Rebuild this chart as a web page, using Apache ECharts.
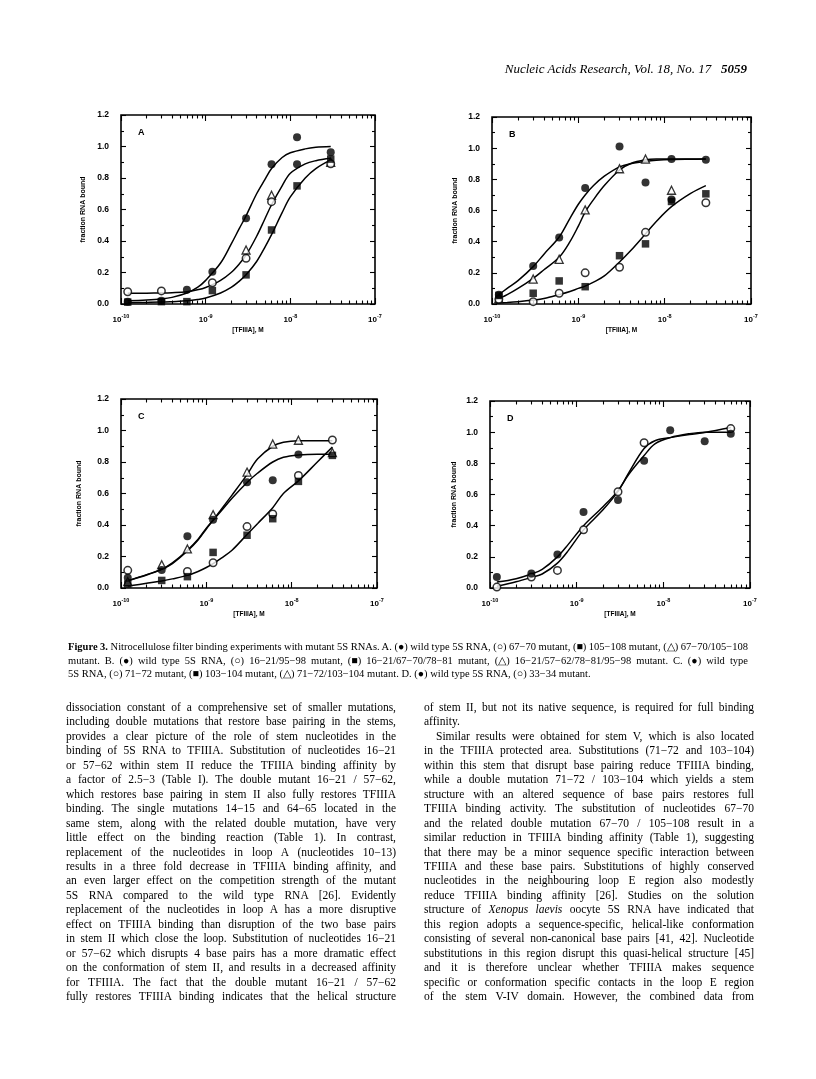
<!DOCTYPE html>
<html>
<head>
    <meta charset="utf-8" />
    <title>Figure 3 - TFIIIA binding curves</title>
    <script src="https://cdn.jsdelivr.net/npm/echarts@6/dist/echarts.min.js"></script>
    <style>
        html, body { margin: 0; padding: 0; background: #fff; }
        #page { position: relative; width: 816px; height: 1079px; overflow: hidden; background: #fff; }
        #chart { position: absolute; left: 0; top: 0; width: 816px; height: 1079px; }
        .txt { position: absolute; font-family: "Liberation Serif", "Times New Roman", serif; color: #000; }
        .ln { white-space: nowrap; }
        .header { right: 69px; top: 60px; font-size: 13px; line-height: 18px; font-style: italic; }
        .caption { font-size: 10.5px; line-height: 13.5px; }
        .body { font-size: 11.5px; line-height: 14.45px; }
    </style>
</head>
<body>
<div id="page">
    <div id="chart"></div>

    <div class="txt header">Nucleic Acids Research, Vol. 18, No. 17&nbsp;&nbsp;&nbsp;<b>5059</b></div>

    <div class="txt just caption" style="left:68px; top:640px; width:680px;">
        <div class="ln"><span><b>Figure 3.</b> Nitrocellulose filter binding experiments with mutant 5S RNAs. A. (●) wild type 5S RNA, (○) 67−70 mutant, (■) 105−108 mutant, (△) 67−70/105−108</span></div>
        <div class="ln"><span>mutant. B. (●) wild type 5S RNA, (○) 16−21/95−98 mutant, (■) 16−21/67−70/78−81 mutant, (△) 16−21/57−62/78−81/95−98 mutant. C. (●) wild type</span></div>
        <div class="ln last"><span>5S RNA, (○) 71−72 mutant, (■) 103−104 mutant, (△) 71−72/103−104 mutant. D. (●) wild type 5S RNA, (○) 33−34 mutant.</span></div>
    </div>

    <div class="txt just body" style="left:66px; top:700px; width:330px;">
        <div class="ln"><span>dissociation constant of a comprehensive set of smaller mutations,</span></div>
        <div class="ln"><span>including double mutations that restore base pairing in the stems,</span></div>
        <div class="ln"><span>provides a clear picture of the role of stem nucleotides in the</span></div>
        <div class="ln"><span>binding of 5S RNA to TFIIIA. Substitution of nucleotides 16−21</span></div>
        <div class="ln"><span>or 57−62 within stem II reduce the TFIIIA binding affinity by</span></div>
        <div class="ln"><span>a factor of 2.5−3 (Table I). The double mutant 16−21 / 57−62,</span></div>
        <div class="ln"><span>which restores base pairing in stem II also fully restores TFIIIA</span></div>
        <div class="ln"><span>binding. The single mutations 14−15 and 64−65 located in the</span></div>
        <div class="ln"><span>same stem, along with the related double mutation, have very</span></div>
        <div class="ln"><span>little effect on the binding reaction (Table 1). In contrast,</span></div>
        <div class="ln"><span>replacement of the nucleotides in loop A (nucleotides 10−13)</span></div>
        <div class="ln"><span>results in a three fold decrease in TFIIIA binding affinity, and</span></div>
        <div class="ln"><span>an even larger effect on the competition strength of the mutant</span></div>
        <div class="ln"><span>5S RNA compared to the wild type RNA [26]. Evidently</span></div>
        <div class="ln"><span>replacement of the nucleotides in loop A has a more disruptive</span></div>
        <div class="ln"><span>effect on TFIIIA binding than disruption of the two base pairs</span></div>
        <div class="ln"><span>in stem II which close the loop. Substitution of nucleotides 16−21</span></div>
        <div class="ln"><span>or 57−62 which disrupts 4 base pairs has a more dramatic effect</span></div>
        <div class="ln"><span>on the conformation of stem II, and results in a decreased affinity</span></div>
        <div class="ln"><span>for TFIIIA. The fact that the double mutant 16−21 / 57−62</span></div>
        <div class="ln"><span>fully restores TFIIIA binding indicates that the helical structure</span></div>
    </div>

    <div class="txt just body" style="left:424px; top:700px; width:330px;">
        <div class="ln"><span>of stem II, but not its native sequence, is required for full binding</span></div>
        <div class="ln last"><span>affinity.</span></div>
        <div class="ln" style="padding-left:12px;"><span>Similar results were obtained for stem V, which is also located</span></div>
        <div class="ln"><span>in the TFIIIA protected area. Substitutions (71−72 and 103−104)</span></div>
        <div class="ln"><span>within this stem that disrupt base pairing reduce TFIIIA binding,</span></div>
        <div class="ln"><span>while a double mutation 71−72 / 103−104 which yields a stem</span></div>
        <div class="ln"><span>structure with an altered sequence of base pairs restores full</span></div>
        <div class="ln"><span>TFIIIA binding activity. The substitution of nucleotides 67−70</span></div>
        <div class="ln"><span>and the related double mutation 67−70 / 105−108 result in a</span></div>
        <div class="ln"><span>similar reduction in TFIIIA binding affinity (Table 1), suggesting</span></div>
        <div class="ln"><span>that there may be a minor sequence specific interaction between</span></div>
        <div class="ln"><span>TFIIIA and these base pairs. Substitutions of highly conserved</span></div>
        <div class="ln"><span>nucleotides in the neighbouring loop E region also modestly</span></div>
        <div class="ln"><span>reduce TFIIIA binding affinity [26]. Studies on the solution</span></div>
        <div class="ln"><span>structure of <i>Xenopus laevis</i> oocyte 5S RNA have indicated that</span></div>
        <div class="ln"><span>this region adopts a sequence-specific, helical-like conformation</span></div>
        <div class="ln"><span>consisting of several non-canonical base pairs [41, 42]. Nucleotide</span></div>
        <div class="ln"><span>substitutions in this region disrupt this quasi-helical structure [45]</span></div>
        <div class="ln"><span>and it is therefore unclear whether TFIIIA makes sequence</span></div>
        <div class="ln"><span>specific or conformation specific contacts in the loop E region</span></div>
        <div class="ln"><span>of the stem V-IV domain. However, the combined data from</span></div>
    </div>
</div>

<script>
    // ---- axis ticks ----
    var xTickValues = [1e-10, 1e-9, 1e-8, 1e-7];
    var xTickExponents = ['-10', '-9', '-8', '-7'];
    var xMinorTicks = [2e-10, 3e-10, 4e-10, 5e-10, 6e-10, 7e-10, 8e-10, 9e-10,
                       2e-9, 3e-9, 4e-9, 5e-9, 6e-9, 7e-9, 8e-9, 9e-9,
                       2e-8, 3e-8, 4e-8, 5e-8, 6e-8, 7e-8, 8e-8, 9e-8];
    var yTickLabels = ['0.0', '0.2', '0.4', '0.6', '0.8', '1.0', '1.2'];

    // ---- panel A: [TFIIIA] (M), fraction bound ----
    var aWildType = [[1.2e-10, 0.015], [3e-10, 0.02], [6e-10, 0.09], [1.2e-9, 0.205], [3e-9, 0.544], [6e-9, 0.887], [1.2e-8, 1.058], [1.2e-8, 0.887], [3e-8, 0.963]];
    var aMut6770 = [[1.2e-10, 0.078], [3e-10, 0.083], [1.2e-9, 0.135], [3e-9, 0.29], [6e-9, 0.65], [3e-8, 0.89]];
    var aMut105108 = [[1.2e-10, 0.012], [3e-10, 0.015], [6e-10, 0.015], [1.2e-9, 0.085], [3e-9, 0.185], [6e-9, 0.47], [1.2e-8, 0.75], [3e-8, 0.92]];
    var aMutDouble = [[3e-9, 0.343], [6e-9, 0.69], [3e-8, 0.9]];
    var aCurveX = [1.2e-10, 2e-10, 3e-10, 4e-10, 6e-10, 8e-10, 1e-9, 1.5e-9, 2e-9, 2.5e-9, 3e-9, 4e-9, 5e-9, 6e-9, 8e-9, 1e-8, 1.5e-8, 2e-8, 3e-8];
    var aCurveWT = [0.02, 0.025, 0.032, 0.042, 0.07, 0.105, 0.15, 0.26, 0.38, 0.48, 0.56, 0.7, 0.79, 0.86, 0.93, 0.96, 0.985, 0.995, 1.0];
    var aCurve6770 = [0.068, 0.069, 0.07, 0.072, 0.078, 0.09, 0.105, 0.15, 0.2, 0.255, 0.31, 0.43, 0.54, 0.63, 0.75, 0.83, 0.89, 0.91, 0.925];
    var aCurve105108 = [0.008, 0.01, 0.012, 0.015, 0.02, 0.028, 0.038, 0.07, 0.105, 0.145, 0.185, 0.27, 0.36, 0.44, 0.58, 0.68, 0.8, 0.86, 0.915];

    // ---- panel B ----
    var bWildType = [[1.2e-10, 0.06], [3e-10, 0.244], [6e-10, 0.426], [1.2e-9, 0.744], [3e-9, 1.01], [6e-9, 0.78], [1.2e-8, 0.93], [1.2e-8, 0.67], [3e-8, 0.926]];
    var bMut1621 = [[1.2e-10, 0.03], [3e-10, 0.015], [6e-10, 0.069], [1.2e-9, 0.2], [3e-9, 0.236], [6e-9, 0.46], [3e-8, 0.65]];
    var bMut7881 = [[1.2e-10, 0.055], [3e-10, 0.069], [6e-10, 0.148], [1.2e-9, 0.111], [3e-9, 0.31], [6e-9, 0.386], [1.2e-8, 0.658], [3e-8, 0.707]];
    var bMutQuad = [[1.2e-10, 0.035], [3e-10, 0.16], [6e-10, 0.287], [1.2e-9, 0.604], [3e-9, 0.868], [6e-9, 0.93], [1.2e-8, 0.73]];
    var bCurveX = [1.1e-10, 1.5e-10, 2e-10, 3e-10, 4e-10, 6e-10, 8e-10, 1e-9, 1.2e-9, 1.5e-9, 2e-9, 3e-9, 4e-9, 6e-9, 8e-9, 1.2e-8, 2e-8, 3e-8];
    var bCurveWT = [0.045, 0.1, 0.15, 0.24, 0.32, 0.43, 0.55, 0.64, 0.7, 0.76, 0.82, 0.88, 0.9, 0.915, 0.922, 0.927, 0.929, 0.93];
    var bCurveQuad = [0.025, 0.06, 0.1, 0.165, 0.22, 0.3, 0.4, 0.5, 0.59, 0.67, 0.76, 0.86, 0.9, 0.925, 0.93, 0.93, 0.93, 0.93];
    var bCurveMut = [0.006, 0.01, 0.015, 0.025, 0.035, 0.06, 0.08, 0.1, 0.115, 0.14, 0.18, 0.27, 0.34, 0.45, 0.53, 0.625, 0.71, 0.76];

    // ---- panel C ----
    var cWildType = [[1.2e-10, 0.065], [3e-10, 0.115], [6e-10, 0.328], [1.2e-9, 0.434], [3e-9, 0.671], [6e-9, 0.684], [1.2e-8, 0.847]];
    var cMut7172 = [[1.2e-10, 0.112], [6e-10, 0.105], [1.2e-9, 0.16], [3e-9, 0.39], [6e-9, 0.47], [1.2e-8, 0.715], [3e-8, 0.94]];
    var cMut103104 = [[1.2e-10, 0.025], [3e-10, 0.048], [6e-10, 0.072], [1.2e-9, 0.226], [3e-9, 0.335], [6e-9, 0.44], [1.2e-8, 0.677], [3e-8, 0.842]];
    var cMutDouble = [[1.2e-10, 0.04], [3e-10, 0.148], [6e-10, 0.248], [1.2e-9, 0.466], [3e-9, 0.736], [6e-9, 0.914], [1.2e-8, 0.938], [3e-8, 0.86]];
    var cCurveX = [1.2e-10, 2e-10, 3e-10, 4e-10, 6e-10, 8e-10, 1e-9, 1.2e-9, 1.5e-9, 2e-9, 3e-9, 4e-9, 6e-9, 8e-9, 1.2e-8, 2e-8, 3e-8];
    var cCurveWT = [0.047, 0.085, 0.12, 0.16, 0.24, 0.31, 0.38, 0.43, 0.49, 0.57, 0.67, 0.73, 0.8, 0.83, 0.845, 0.85, 0.85];
    var cCurveDouble = [0.045, 0.082, 0.118, 0.155, 0.235, 0.305, 0.375, 0.43, 0.5, 0.59, 0.72, 0.82, 0.9, 0.925, 0.935, 0.935, 0.935];
    var cCurveMut = [0.012, 0.03, 0.045, 0.058, 0.08, 0.105, 0.13, 0.155, 0.19, 0.24, 0.34, 0.41, 0.51, 0.6, 0.68, 0.8, 0.895];

    // ---- panel D ----
    var dWildType = [[1.2e-10, 0.07], [3e-10, 0.093], [6e-10, 0.215], [1.2e-9, 0.488], [3e-9, 0.565], [6e-9, 0.817], [1.2e-8, 1.013], [3e-8, 0.942], [6e-8, 0.99]];
    var dMut3334 = [[1.2e-10, 0.006], [3e-10, 0.07], [6e-10, 0.113], [1.2e-9, 0.373], [3e-9, 0.618], [6e-9, 0.932], [6e-8, 1.023]];
    var dCurveX = [1.2e-10, 2e-10, 3e-10, 4e-10, 6e-10, 8e-10, 1.2e-9, 2e-9, 3e-9, 4e-9, 6e-9, 8e-9, 1.2e-8, 2e-8, 3e-8, 6e-8];
    var dCurveWT = [0.038, 0.06, 0.09, 0.12, 0.2, 0.28, 0.4, 0.52, 0.625, 0.73, 0.85, 0.925, 0.965, 0.99, 1.0, 1.0];
    var dCurveMut = [0.011, 0.04, 0.068, 0.09, 0.16, 0.24, 0.373, 0.5, 0.62, 0.74, 0.895, 0.945, 0.965, 0.985, 0.998, 1.03];

    // 面板布局（像素）
    var panels = [
        { label: 'A', box: [121, 115, 254, 189], yGap: 34,
          curves: [[aCurveX, aCurveWT], [aCurveX, aCurve6770], [aCurveX, aCurve105108]],
          marks: [['openTriangle', aMutDouble], ['openCircle', aMut6770], ['filledSquare', aMut105108], ['filledCircle', aWildType]] },
        { label: 'B', box: [492, 117, 259, 187], yGap: 33,
          curves: [[bCurveX, bCurveWT], [bCurveX, bCurveQuad], [bCurveX, bCurveMut]],
          marks: [['openTriangle', bMutQuad], ['openCircle', bMut1621], ['filledSquare', bMut7881], ['filledCircle', bWildType]] },
        { label: 'C', box: [121, 399, 256, 189], yGap: 38,
          curves: [[cCurveX, cCurveWT], [cCurveX, cCurveDouble], [cCurveX, cCurveMut]],
          marks: [['openTriangle', cMutDouble], ['openCircle', cMut7172], ['filledSquare', cMut103104], ['filledCircle', cWildType]] },
        { label: 'D', box: [490, 401, 260, 187], yGap: 32,
          curves: [[dCurveX, dCurveWT], [dCurveX, dCurveMut]],
          marks: [['openCircle', dMut3334], ['filledCircle', dWildType]] }
    ];

    var ink = '#000';
    var fontSans = 'Liberation Sans';
    var markStyles = {
        filledCircle: { symbol: 'circle', symbolSize: 8, itemStyle: { color: ink } },
        openCircle: { symbol: 'circle', symbolSize: 7.5, itemStyle: { color: '#fff', borderColor: ink, borderWidth: 1.5 } },
        filledSquare: { symbol: 'rect', symbolSize: 7.5, itemStyle: { color: ink } },
        openTriangle: { symbol: 'triangle', symbolSize: 8, itemStyle: { color: '#fff', borderColor: ink, borderWidth: 1.3 } }
    };

    function fmtX(v) {
        var best = 0;
        for (var k = 1; k < xTickValues.length; k++) {
            if (Math.abs(Math.log(v / xTickValues[k])) < Math.abs(Math.log(v / xTickValues[best]))) best = k;
        }
        return '{b|10}{s|' + xTickExponents[best] + '}';
    }
    function fmtY(v) {
        return yTickLabels[Math.round(v / 0.2)];
    }

    var tickLine = { color: ink, width: 1.1 };
    var option = { animation: false, grid: [], xAxis: [], yAxis: [], series: [], graphic: [] };

    panels.forEach(function (p, i) {
        option.grid.push({
            left: p.box[0], top: p.box[1], width: p.box[2], height: p.box[3],
            show: true, borderColor: ink, borderWidth: 1.6, backgroundColor: 'transparent'
        });
        function xAx(extra) {
            return Object.assign({
                gridIndex: i, type: 'log', logBase: 10, min: 1e-10, max: 1e-7,
                axisLine: { show: false }, splitLine: { show: false }, axisLabel: { show: false }
            }, extra);
        }
        option.xAxis.push(xAx({
            position: 'bottom',
            axisTick: { inside: true, length: 6, lineStyle: tickLine },
            axisLabel: {
                show: true, margin: 9, formatter: fmtX,
                rich: {
                    b: { fontSize: 8, fontWeight: 'bold', fontFamily: fontSans, color: ink, lineHeight: 11, verticalAlign: 'bottom' },
                    s: { fontSize: 5.5, fontWeight: 'bold', fontFamily: fontSans, color: ink, lineHeight: 11, verticalAlign: 'top' }
                }
            },
            name: '[TFIIIA], M', nameLocation: 'middle', nameGap: 23,
            nameTextStyle: { fontSize: 6.5, fontWeight: 'bold', fontFamily: fontSans, color: ink }
        }));
        option.xAxis.push(xAx({ position: 'bottom', axisTick: { inside: true, length: 3.5, lineStyle: tickLine, customValues: xMinorTicks } }));
        option.xAxis.push(xAx({ position: 'top', axisTick: { inside: true, length: 6, lineStyle: tickLine } }));
        option.xAxis.push(xAx({ position: 'top', axisTick: { inside: true, length: 3.5, lineStyle: tickLine, customValues: xMinorTicks } }));

        function yAx(extra) {
            return Object.assign({
                gridIndex: i, type: 'value', min: 0, max: 1.2, interval: 0.2,
                axisLine: { show: false }, splitLine: { show: false },
                axisTick: { inside: true, length: 5, lineStyle: tickLine },
                minorTick: { show: true, splitNumber: 2, length: 3, lineStyle: tickLine },
                axisLabel: { show: false }
            }, extra);
        }
        option.yAxis.push(yAx({
            position: 'left',
            axisLabel: { show: true, margin: 12, formatter: fmtY, fontSize: 8.5, fontWeight: 'bold', fontFamily: fontSans, color: ink },
            name: 'fraction RNA bound', nameLocation: 'middle', nameGap: p.yGap, nameRotate: 90,
            nameTextStyle: { fontSize: 7, fontWeight: 'bold', fontFamily: fontSans, color: ink }
        }));
        option.yAxis.push(yAx({ position: 'right' }));

        // 拟合曲线
        p.curves.forEach(function (c) {
            option.series.push({
                type: 'line', xAxisIndex: i * 4, yAxisIndex: i * 2,
                data: c[0].map(function (x, k) { return [x, c[1][k]]; }),
                showSymbol: false, smooth: 0.35, silent: true,
                lineStyle: { color: ink, width: 1.5 }
            });
        });
        // 数据点
        p.marks.forEach(function (m) {
            var st = markStyles[m[0]];
            option.series.push({
                type: 'scatter', xAxisIndex: i * 4, yAxisIndex: i * 2,
                data: m[1], symbol: st.symbol, symbolSize: st.symbolSize,
                itemStyle: st.itemStyle, silent: true, z: 3
            });
        });
        option.graphic.push({
            type: 'text', left: p.box[0] + 17, top: p.box[1] + 13,
            style: { text: p.label, font: 'bold 9px "Liberation Sans"', fill: ink }
        });
    });

    var chart = echarts.init(document.getElementById('chart'));
    chart.setOption(option);

    // 两端对齐正文
    function justifyLines() {
        var lines = document.querySelectorAll('.just .ln');
        for (var i = 0; i < lines.length; i++) {
            var ln = lines[i];
            if (ln.classList.contains('last')) continue;
            var span = ln.querySelector('span');
            var pad = parseFloat(getComputedStyle(ln).paddingLeft) || 0;
            var target = ln.clientWidth - pad;
            var nat = span.getBoundingClientRect().width;
            var n = (span.textContent.match(/ /g) || []).length;
            if (n > 0) ln.style.wordSpacing = ((target - nat) / n) + 'px';
        }
    }
    justifyLines();
</script>
</body>
</html>
